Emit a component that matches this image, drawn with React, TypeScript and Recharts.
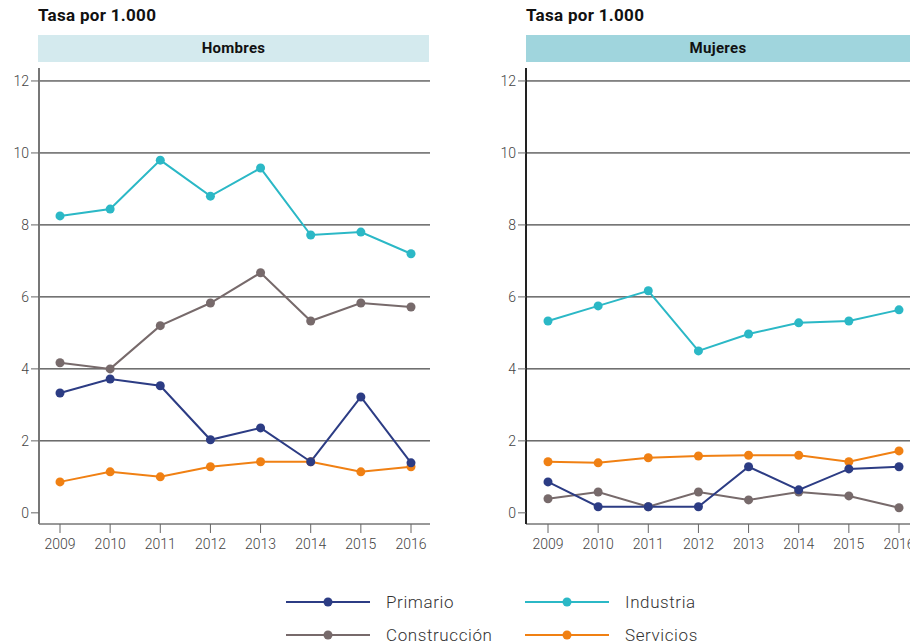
import { LineChart, Line, XAxis, YAxis, CartesianGrid } from "recharts";

const years = ["2009", "2010", "2011", "2012", "2013", "2014", "2015", "2016"];
const yTicks = [0, 2, 4, 6, 8, 10, 12];
const gridTicks = [2, 4, 6, 8, 10, 12];

const series = [
  { key: "primario", name: "Primario", color: "#2c3c84" },
  { key: "industria", name: "Industria", color: "#2bb8c6" },
  { key: "construccion", name: "Construcción", color: "#776a6b" },
  { key: "servicios", name: "Servicios", color: "#f08013" },
];

const hombresPrimario = [3.33, 3.72, 3.53, 2.03, 2.36, 1.42, 3.22, 1.39];
const hombresIndustria = [8.25, 8.44, 9.8, 8.8, 9.58, 7.72, 7.8, 7.2];
const hombresConstruccion = [4.17, 4.0, 5.2, 5.83, 6.67, 5.33, 5.83, 5.72];
const hombresServicios = [0.86, 1.14, 1.0, 1.28, 1.42, 1.42, 1.14, 1.28];

const mujeresPrimario = [0.86, 0.17, 0.17, 0.17, 1.28, 0.64, 1.22, 1.28];
const mujeresIndustria = [5.33, 5.75, 6.17, 4.5, 4.97, 5.28, 5.33, 5.64];
const mujeresConstruccion = [0.39, 0.58, 0.17, 0.58, 0.36, 0.58, 0.47, 0.14];
const mujeresServicios = [1.42, 1.39, 1.53, 1.58, 1.6, 1.6, 1.42, 1.72];

const hombresData = years.map((year, i) => ({
  year,
  primario: hombresPrimario[i],
  industria: hombresIndustria[i],
  construccion: hombresConstruccion[i],
  servicios: hombresServicios[i],
}));

const mujeresData = years.map((year, i) => ({
  year,
  primario: mujeresPrimario[i],
  industria: mujeresIndustria[i],
  construccion: mujeresConstruccion[i],
  servicios: mujeresServicios[i],
}));

const font = "Roboto, 'DejaVu Sans', sans-serif";
const tickStyle = { fontSize: 14, fill: "#444", fontFamily: font, fontWeight: 300 };

// draw order: servicios at the back like in the original
const drawOrder = ["construccion", "industria", "servicios", "primario"];

function Panel(props: {
  data: any[];
  width: number;
  right: number;
  padLeft: number;
  padRight: number;
  axisColor: string;
}) {
  return (
    <LineChart
      width={props.width}
      height={570}
      data={props.data}
      margin={{ top: 68, left: 9, right: props.right, bottom: 16 }}
    >
      <CartesianGrid
        vertical={false}
        horizontalValues={gridTicks}
        stroke="#1a1a1a"
        strokeWidth={1}
      />
      <XAxis
        dataKey="year"
        height={30}
        padding={{ left: props.padLeft, right: props.padRight }}
        tickSize={9}
        tickMargin={6}
        tick={tickStyle}
        stroke="#333"
        tickLine={{ stroke: "#666" }}
        interval={0}
      />
      <YAxis
        width={30}
        domain={[-0.31, 12.36]}
        ticks={yTicks}
        allowDataOverflow
        tickSize={8}
        tickMargin={2}
        tick={tickStyle}
        axisLine={{ stroke: props.axisColor, strokeWidth: 2 }}
        tickLine={{ stroke: "#666" }}
      />
      {drawOrder.map((k) => {
        const s = series.find((x) => x.key === k)!;
        return (
          <Line
            key={s.key}
            dataKey={s.key}
            name={s.name}
            type="linear"
            stroke={s.color}
            strokeWidth={2}
            dot={{ r: 4.5, fill: s.color, stroke: s.color, strokeWidth: 0 }}
            isAnimationActive={false}
          />
        );
      })}
    </LineChart>
  );
}

function LegendItem({ name, color }: { name: string; color: string }) {
  return (
    <div style={{ display: "flex", alignItems: "center", height: 33 }}>
      <svg width={100} height={12}>
        <line x1={0} y1={6} x2={84} y2={6} stroke={color} strokeWidth={2} />
        <circle cx={42} cy={6} r={4.5} fill={color} />
      </svg>
      <span style={{ fontSize: 17, color: "#333", fontFamily: font, fontWeight: 300, letterSpacing: 0.6 }}>
        {name}
      </span>
    </div>
  );
}

export default function App() {
  const titleStyle: any = {
    position: "absolute",
    top: 5,
    fontSize: 17,
    fontWeight: 700,
    color: "#111",
    fontFamily: font,
    letterSpacing: 0.3,
  };
  const headerStyle: any = {
    position: "absolute",
    top: 35,
    height: 27,
    lineHeight: "27px",
    textAlign: "center",
    fontSize: 15,
    fontWeight: 700,
    color: "#111",
    fontFamily: font,
    letterSpacing: 0.3,
  };
  return (
    <div
      style={{
        position: "absolute",
        left: 0,
        top: 0,
        width: 910,
        height: 644,
        overflow: "hidden",
        background: "#fff",
      }}
    >
      <div style={{ ...titleStyle, left: 38 }}>Tasa por 1.000</div>
      <div style={{ ...titleStyle, left: 526 }}>Tasa por 1.000</div>
      <div style={{ ...headerStyle, left: 38, width: 391, background: "#d4eaee" }}>Hombres</div>
      <div style={{ ...headerStyle, left: 526, width: 384, background: "#a0d5dd" }}>Mujeres</div>

      <div style={{ position: "absolute", left: 0, top: 0 }}>
        <Panel data={hombresData} width={440} right={10} padLeft={21} padRight={19} axisColor="#777" />
      </div>
      <div style={{ position: "absolute", left: 487, top: 0 }}>
        <Panel data={mujeresData} width={440} right={17} padLeft={22} padRight={11} axisColor="#222" />
      </div>

      <div style={{ position: "absolute", left: 286, top: 585, display: "grid", gridTemplateColumns: "239px 200px" }}>
        <LegendItem name={series[0].name} color={series[0].color} />
        <LegendItem name={series[1].name} color={series[1].color} />
        <LegendItem name={series[2].name} color={series[2].color} />
        <LegendItem name={series[3].name} color={series[3].color} />
      </div>
    </div>
  );
}
